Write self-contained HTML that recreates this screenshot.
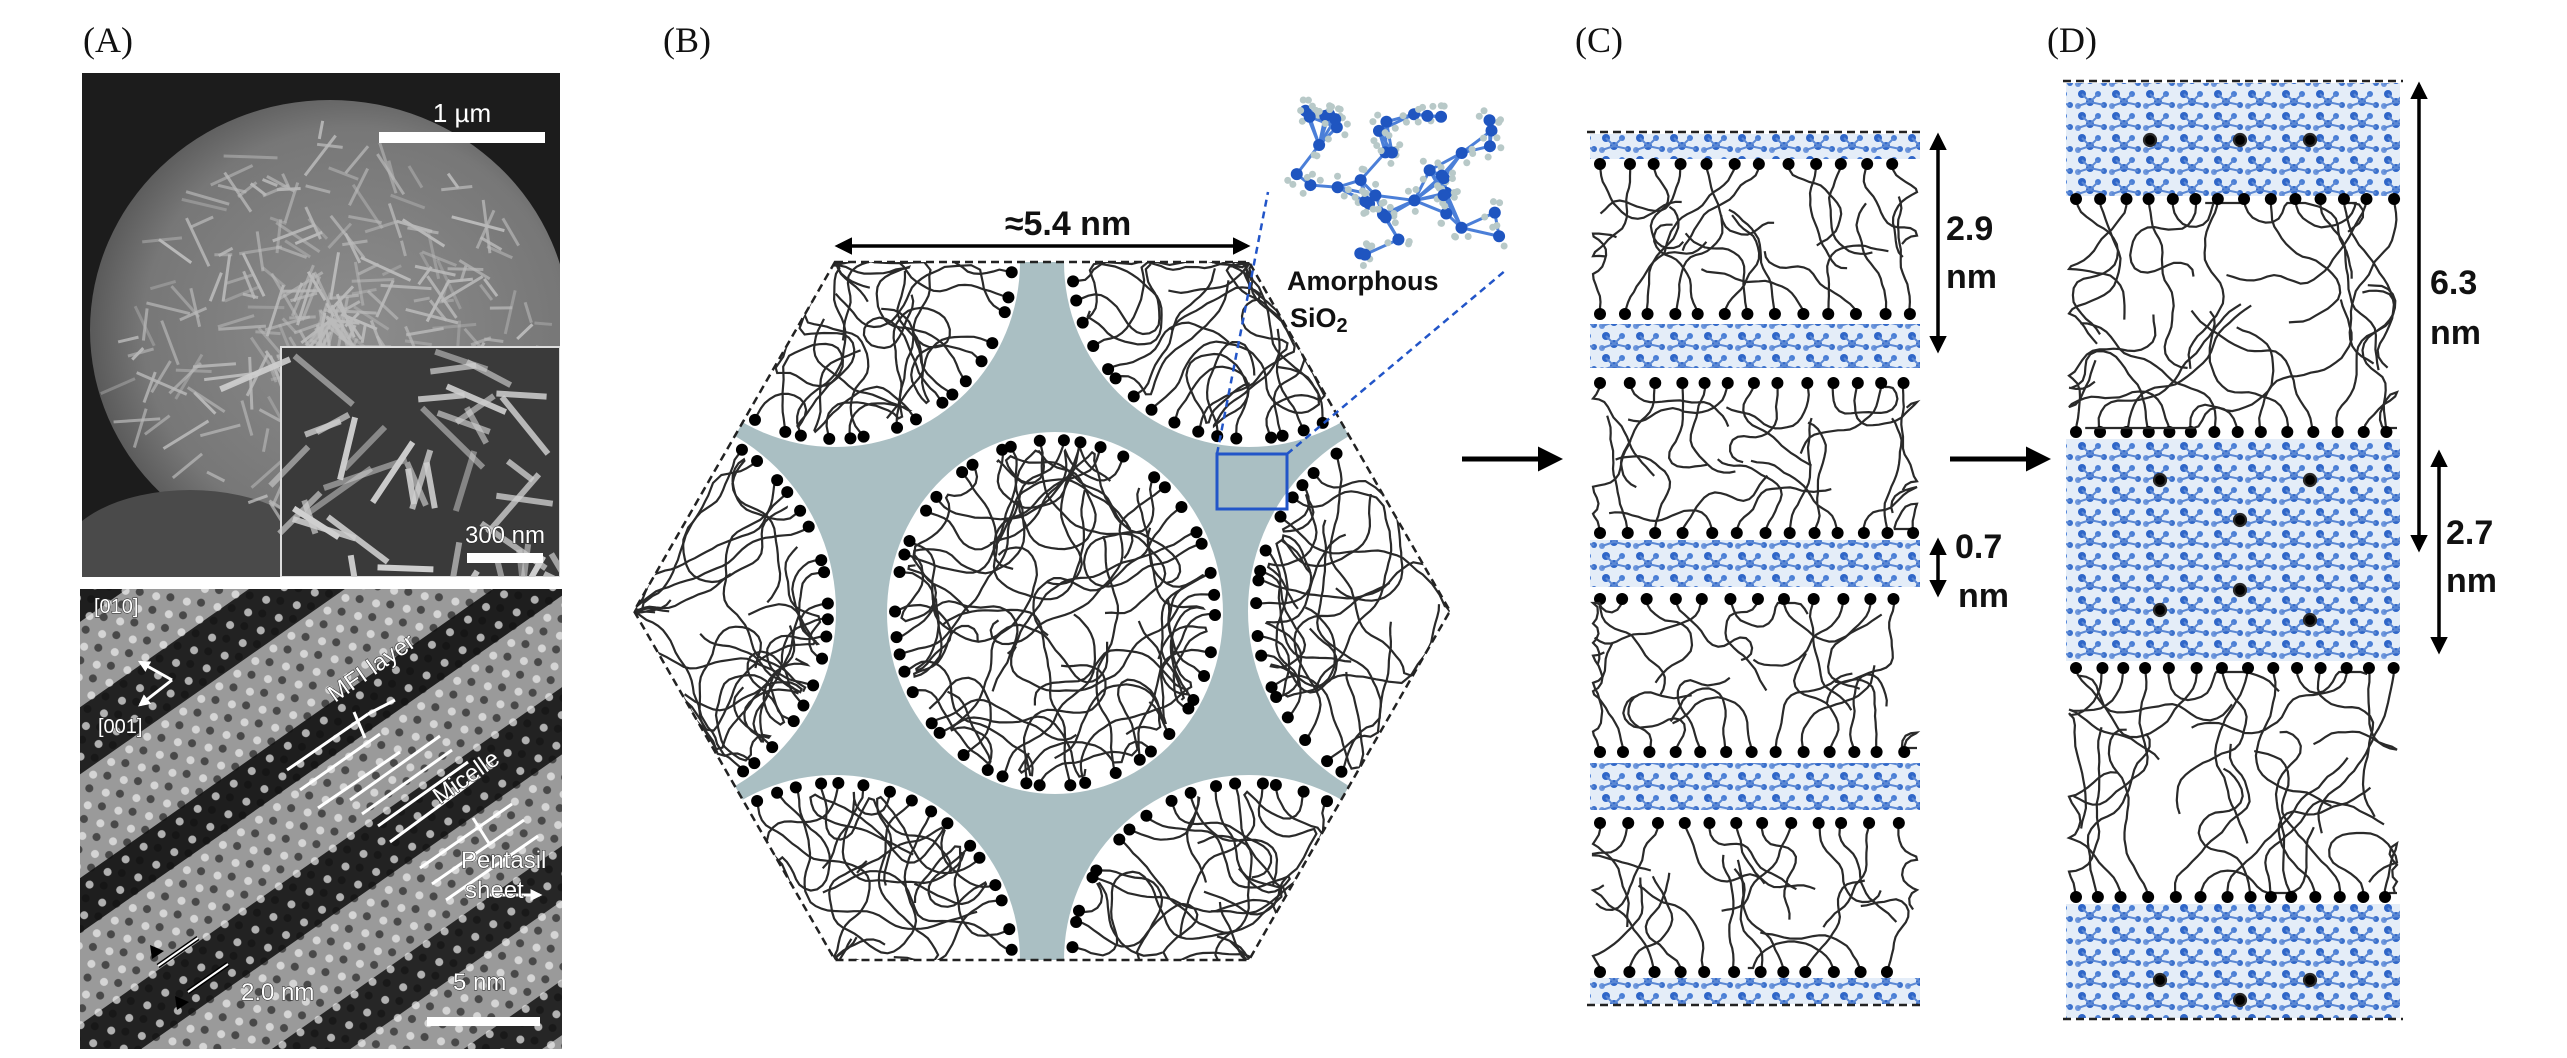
<!DOCTYPE html>
<html><head><meta charset="utf-8"><style>
html,body{margin:0;padding:0;background:#fff;width:2567px;height:1058px;overflow:hidden}
svg{display:block}
#s{position:absolute;left:0;top:0}
.lbl{font-family:"Liberation Serif",serif;font-size:36px;fill:#111}
.b{font-family:"Liberation Sans",sans-serif;font-weight:bold;fill:#111}
.w{font-family:"Liberation Sans",sans-serif;fill:#fff;stroke:#222;stroke-width:1;paint-order:stroke}
</style></head><body>
<svg id="s" xmlns="http://www.w3.org/2000/svg" width="2567" height="1058" viewBox="0 0 2567 1058" overflow="hidden">
<defs>
<marker id="ah" viewBox="0 0 10 10" refX="8" refY="5" markerWidth="5" markerHeight="5" orient="auto-start-reverse"><path d="M0,0L10,5L0,10z" fill="#000"/></marker>
<marker id="wh" viewBox="0 0 10 10" refX="8" refY="5" markerWidth="4" markerHeight="4" orient="auto-start-reverse"><path d="M0,0L10,5L0,10z" fill="#fff"/></marker>
<clipPath id="hex"><polygon points="835,262 1249,262 1450,611 1249,960 835,960 634,611"/></clipPath>
<pattern id="blue" width="34" height="22" patternUnits="userSpaceOnUse">
<rect width="34" height="22" fill="#e4edf8"/>
<circle cx="8" cy="6" r="4" fill="#2f66c8"/><circle cx="24" cy="6" r="3" fill="#4a7fd6"/>
<circle cx="16" cy="14" r="4" fill="#2f66c8"/><circle cx="4" cy="18" r="3" fill="#6d96dc"/><circle cx="30" cy="17" r="3" fill="#3a70cc"/>
<path d="M8,6L16,14L24,6M4,18L16,14L30,17" stroke="#5b88d4" stroke-width="2" fill="none"/>
</pattern>
<pattern id="tdots" width="22" height="22" patternUnits="userSpaceOnUse" patternTransform="rotate(-35)">
<circle cx="6" cy="6" r="4" fill="#eee" opacity="0.7"/><circle cx="17" cy="15" r="4" fill="#111" opacity="0.6"/>
</pattern>
<radialGradient id="sph" cx="0.55" cy="0.5" r="0.55"><stop offset="0" stop-color="#8d8d8d"/><stop offset="0.8" stop-color="#777"/><stop offset="1" stop-color="#5a5a5a"/></radialGradient>
</defs>

<text class="lbl" x="83" y="52">(A)</text>
<text class="lbl" x="663" y="52">(B)</text>
<text class="lbl" x="1575" y="52">(C)</text>
<text class="lbl" x="2047" y="52">(D)</text>

<!-- SEM -->
<svg x="82" y="73" width="478" height="504" viewBox="82 73 478 504" overflow="hidden">
<rect x="82" y="73" width="478" height="504" fill="#1c1c1c"/>
<ellipse cx="330" cy="330" rx="240" ry="230" fill="url(#sph)"/>
<ellipse cx="190" cy="560" rx="130" ry="70" fill="#4a4a4a"/>
<g id="semlines" stroke="#c8c8c8" stroke-width="3" opacity="0.8"></g>
<rect x="281" y="347" width="279" height="230" fill="#3a3a3a" stroke="#ddd" stroke-width="2"/>
<g id="inslines" stroke="#cfcfcf" stroke-width="6"></g>
</svg>
<rect x="379" y="132" width="166" height="11" fill="#fff"/>
<text class="w" x="462" y="122" font-size="26" text-anchor="middle" stroke="none">1 µm</text>
<rect x="467" y="553" width="76" height="10" fill="#fff"/>
<text class="w" x="505" y="543" font-size="24" text-anchor="middle">300 nm</text>

<!-- TEM -->
<svg x="80" y="589" width="482" height="460" viewBox="80 589 482 460" overflow="hidden">
<rect x="80" y="589" width="482" height="460" fill="#9a9a9a"/>
<g transform="rotate(-35 320 820)">
<rect x="-100" y="480" width="800" height="40" fill="#1e1e1e"/>
<rect x="-100" y="590" width="800" height="55" fill="#222"/>
<rect x="-100" y="730" width="800" height="45" fill="#1e1e1e"/>
<rect x="-100" y="850" width="800" height="55" fill="#222"/>
<rect x="-100" y="980" width="800" height="45" fill="#262626"/>
<rect x="-100" y="1090" width="800" height="45" fill="#262626"/>
</g>
<rect x="80" y="589" width="482" height="460" fill="url(#tdots)"/>
</svg>
<g stroke="#fff" stroke-width="3" fill="none">
<path d="M172,680L140,662" marker-end="url(#wh)"/><path d="M172,680L140,705" marker-end="url(#wh)"/>
<path d="M287,770L368,714M300,790L380,734M318,808L400,752"/>
<path d="M354,712L365,738M368,714L395,700"/>
<path d="M350,800L440,736M362,814L452,750M378,826L468,762M390,842L480,776"/>
<path d="M420,868L512,804M432,884L524,820M446,900L538,836"/>
<path d="M473,818L490,845"/>
<path d="M490,895L540,895" marker-end="url(#wh)"/>
<path d="M158,966L198,938M188,992L228,964" stroke="#000" stroke-width="5"/>
<path d="M158,966L198,938M188,992L228,964" stroke-width="2"/>
</g>
<path d="M150,945l14,6l-12,8z M175,996l14,6l-12,8z" fill="#000"/>
<rect x="427" y="1017" width="113" height="9" fill="#fff"/>
<g font-size="20" class="w">
<text x="94" y="613">[010]</text><text x="98" y="733">[001]</text>
<text x="335" y="703" font-size="24" transform="rotate(-35 335 703)">MFI layer</text>
<text x="440" y="805" font-size="24" transform="rotate(-35 440 805)">Micelle</text>
<text x="461" y="868" font-size="24">Pentasil</text>
<text x="465" y="898" font-size="24">sheet</text>
<text x="241" y="1000" font-size="24">2.0 nm</text>
<text x="453" y="990" font-size="24">5 nm</text>
</g>

<!-- B -->
<svg x="630" y="258" width="824" height="706" viewBox="630 258 824 706" overflow="hidden">
<g clip-path="url(#hex)">
<polygon points="835,262 1249,262 1450,611 1249,960 835,960 634,611" fill="#aabfc3"/>
<g id="whites" fill="#fff"></g>
<g id="micelles" fill="none" stroke="#2a2a2a" stroke-width="2.2"></g>
</g>
</svg>
<polygon points="835,262 1249,262 1450,611 1249,960 835,960 634,611" fill="none" stroke="#222" stroke-width="2.5" stroke-dasharray="8,5"/>
<line x1="838" y1="246" x2="1247" y2="246" stroke="#000" stroke-width="3.5" marker-start="url(#ah)" marker-end="url(#ah)"/>
<text class="b" x="1068" y="235" font-size="34" text-anchor="middle">≈5.4 nm</text>
<rect x="1217" y="454" width="70" height="55" fill="none" stroke="#2255c8" stroke-width="3"/>
<path d="M1217,454L1268,192M1287,454L1506,270" stroke="#2255c8" stroke-width="2.5" stroke-dasharray="7,5" fill="none"/>
<g id="mol"></g>
<text class="b" x="1287" y="290" font-size="27">Amorphous</text>
<text class="b" x="1290" y="327" font-size="27">SiO<tspan font-size="20" dy="5">2</tspan></text>

<line x1="1462" y1="459" x2="1558" y2="459" stroke="#000" stroke-width="5" marker-end="url(#ah)"/>
<line x1="1950" y1="459" x2="2046" y2="459" stroke="#000" stroke-width="5" marker-end="url(#ah)"/>

<!-- C -->
<svg x="1587" y="132" width="335" height="873" viewBox="1587 132 335 873" overflow="hidden">
<g id="cbands"></g>
<g id="cchains" fill="none" stroke="#2a2a2a" stroke-width="2.2"></g>
</svg>
<line x1="1587" y1="132" x2="1922" y2="132" stroke="#222" stroke-width="2.5" stroke-dasharray="8,5"/>
<line x1="1587" y1="1005" x2="1922" y2="1005" stroke="#222" stroke-width="2.5" stroke-dasharray="8,5"/>
<line x1="1938" y1="136" x2="1938" y2="350" stroke="#000" stroke-width="3.5" marker-start="url(#ah)" marker-end="url(#ah)"/>
<text class="b" x="1946" y="240" font-size="34">2.9</text><text class="b" x="1946" y="288" font-size="34">nm</text>
<line x1="1938" y1="541" x2="1938" y2="594" stroke="#000" stroke-width="3.5" marker-start="url(#ah)" marker-end="url(#ah)"/>
<text class="b" x="1955" y="558" font-size="34">0.7</text><text class="b" x="1958" y="607" font-size="34">nm</text>

<!-- D -->
<svg x="2063" y="81" width="340" height="938" viewBox="2063 81 340 938" overflow="hidden">
<g id="dbands"></g>
<g id="dchains" fill="none" stroke="#2a2a2a" stroke-width="2.2"></g>
</svg>
<line x1="2063" y1="81" x2="2403" y2="81" stroke="#222" stroke-width="2.5" stroke-dasharray="8,5"/>
<line x1="2063" y1="1019" x2="2403" y2="1019" stroke="#222" stroke-width="2.5" stroke-dasharray="8,5"/>
<line x1="2419" y1="85" x2="2419" y2="549" stroke="#000" stroke-width="3.5" marker-start="url(#ah)" marker-end="url(#ah)"/>
<text class="b" x="2430" y="294" font-size="34">6.3</text><text class="b" x="2430" y="344" font-size="34">nm</text>
<line x1="2439" y1="453" x2="2439" y2="651" stroke="#000" stroke-width="3.5" marker-start="url(#ah)" marker-end="url(#ah)"/>
<text class="b" x="2446" y="544" font-size="34">2.7</text><text class="b" x="2446" y="592" font-size="34">nm</text>
</svg>
<script>
(function(){
var NS="http://www.w3.org/2000/svg";
var seed=12345;function R(){seed|=0;seed=seed+0x6D2B79F5|0;var t=Math.imul(seed^seed>>>15,1|seed);t=t+Math.imul(t^t>>>7,61|t)^t;return((t^t>>>14)>>>0)/4294967296;}
function el(tag,attrs,parent){var e=document.createElementNS(NS,tag);for(var k in attrs)e.setAttribute(k,attrs[k]);parent.appendChild(e);return e;}
function $(id){return document.getElementById(id);}
var sl=$("semlines");
for(var i=0;i<320;i++){var a=R()*Math.PI,r=R()*210,t=R()*6.28;var x=330+Math.cos(t)*r,y=320+Math.sin(t)*r*0.95;var L=15+R()*40;
el("line",{x1:x,y1:y,x2:x+Math.cos(a)*L,y2:y+Math.sin(a)*L,opacity:0.4+R()*0.6},sl);}
var il=$("inslines");
for(var i=0;i<45;i++){var a=R()*Math.PI,x=285+R()*270,y=350+R()*225,L=30+R()*60;
el("line",{x1:x,y1:y,x2:x+Math.cos(a)*L,y2:y+Math.sin(a)*L,opacity:0.5+R()*0.5},il);}
var verts=[[835,262,185],[1249,262,185],[1450,611,202],[1249,960,185],[835,960,185],[634,611,202]];
var circles=verts.map(function(v){return [v[0],v[1],v[2],v[2]];});
circles.push([1055,613,168,181]);
var W=$("whites"),M=$("micelles");
function inHex(x,y){if(y<266||y>956)return false;var dy=Math.abs(y-611);var half=207+(1-dy/349)*201;return Math.abs(x-1042)<half-6;}
circles.forEach(function(c){
 el("ellipse",{cx:c[0],cy:c[1],rx:c[2],ry:c[3]},W);
 var n=Math.round(2*Math.PI*c[2]/24);
 for(var k=0;k<n;k++){
  var a=k/n*2*Math.PI+R()*0.1;var bx=c[0]+Math.cos(a)*(c[2]-8),by=c[1]+Math.sin(a)*(c[3]-8);
  if(!inHex(bx,by))continue;
  var h=a+Math.PI+(R()-0.5)*0.8,w=0,x=bx,y=by,d="M"+x.toFixed(1)+","+y.toFixed(1);
  var steps=22+Math.floor(R()*26);
  for(var s=0;s<steps;s++){
   w+=(R()-0.5)*0.7;w*=0.7;h+=w;x+=Math.cos(h)*6.5;y+=Math.sin(h)*6.5;
   var ex=(x-c[0])/(c[2]-14),ey=(y-c[1])/(c[3]-14);
   if(ex*ex+ey*ey>1||!inHex(x,y)){h=Math.atan2(c[1]-y,c[0]-x)+(R()-0.5);w=0;x+=Math.cos(h)*7;y+=Math.sin(h)*7;}
   d+="L"+x.toFixed(1)+","+y.toFixed(1);}
  el("path",{d:d},M);
  el("circle",{cx:bx,cy:by,r:6,fill:"#000",stroke:"none"},M);
 }
});
var mol=$("mol");var pts=[];
for(var i=0;i<40;i++){pts.push([1285+R()*225,110+R()*145]);}
pts.forEach(function(p,i){for(var j=0;j<i;j++){var q=pts[j];var dd=Math.hypot(p[0]-q[0],p[1]-q[1]);if(dd<40)el("line",{x1:p[0],y1:p[1],x2:q[0],y2:q[1],stroke:"#4b7fd8","stroke-width":3},mol);}});
pts.forEach(function(p){el("circle",{cx:p[0],cy:p[1],r:6,fill:"#1f55c0"},mol);
 for(var k=0;k<3;k++){var a=R()*6.28;el("circle",{cx:p[0]+Math.cos(a)*11,cy:p[1]+Math.sin(a)*11,r:3.5,fill:"#b8c9c8"},mol);}});
function bands(g,x1,x2,list){list.forEach(function(b){el("rect",{x:x1,y:b[0],width:x2-x1,height:b[1]-b[0],fill:"url(#blue)"},$(g));});}
bands("cbands",1590,1920,[[134,159],[324,368],[540,587],[763,810],[978,1004]]);
bands("dbands",2066,2400,[[83,196],[439,661],[904,1018]]);
function chains(g,x1,x2,top,bot,spacing,step){
 var G=$(g);
 [[top,1],[bot,-1]].forEach(function(row){
  for(var x=x1+10;x<x2-5;x+=spacing+(R()-0.5)*8){
   var px=x,py=row[0],dir=row[1]>0?Math.PI/2:-Math.PI/2,h=dir,w=0,d="M"+px.toFixed(1)+","+py.toFixed(1);
   var len=(bot-top)*0.8/step;
   for(var s=0;s<len;s++){w+=(R()-0.5)*0.9;w*=0.75;h+=w;h=h*0.9+dir*0.1;
    px+=Math.cos(h)*step;py+=Math.sin(h)*step;
    if(px<x1+3){px=x1+3;h=0;}if(px>x2-3){px=x2-3;h=Math.PI;}
    if(py<top+4)py=top+4;if(py>bot-4)py=bot-4;
    d+="L"+px.toFixed(1)+","+py.toFixed(1);}
   el("path",{d:d},G);
   el("circle",{cx:x,cy:row[0],r:6,fill:"#000",stroke:"none"},G);
  }});
}
chains("cchains",1590,1920,164,314,26,6);
chains("cchains",1590,1920,383,533,26,6);
chains("cchains",1590,1920,599,752,26,6);
chains("cchains",1590,1920,823,972,26,6);
chains("dchains",2066,2400,199,432,24,7);
chains("dchains",2066,2400,668,897,24,7);
[[2150,140],[2240,140],[2310,140],[2160,480],[2240,520],[2310,480],[2160,610],[2240,590],[2310,620],[2160,980],[2240,1000],[2310,980]].forEach(function(p){
 el("circle",{cx:p[0],cy:p[1],r:6,fill:"#000"},$("dchains"));});
})();
</script>
</body></html>
